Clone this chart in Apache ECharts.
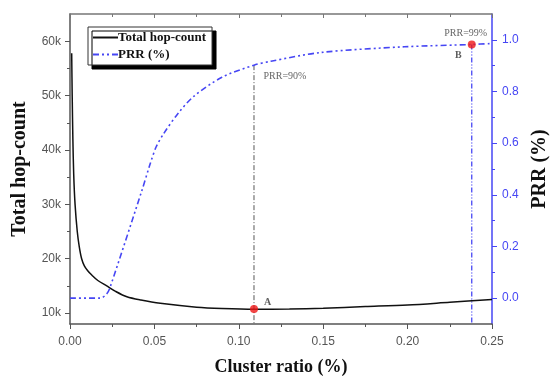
<!DOCTYPE html>
<html>
<head>
<meta charset="utf-8">
<script src="https://cdn.jsdelivr.net/npm/echarts@6/dist/echarts.min.js"></script>
<style>
  html, body { margin: 0; padding: 0; background: #fff; }
  #chart { width: 551px; height: 376px; }
</style>
</head>
<body>
<div id="chart"></div>
<script>
// total hop-count curve (left axis)
const hopRatio = [0.001, 0.0013, 0.0017, 0.0022, 0.003, 0.0043, 0.0055, 0.0069, 0.0085, 0.0105, 0.0129, 0.0165, 0.0218, 0.027, 0.0337, 0.042, 0.0535, 0.075, 0.09, 0.109, 0.13, 0.15, 0.175, 0.20, 0.225, 0.25];
const hopCount = [57800, 50000, 42000, 35500, 30000, 25000, 22200, 20000, 18700, 17800, 17000, 16000, 15000, 14000, 13000, 12400, 11800, 11100, 10850, 10700, 10750, 10900, 11200, 11500, 12000, 12500];

// PRR curve (right axis)
const prrRatio = [0, 0.0178, 0.0218, 0.0238, 0.0426, 0.0475, 0.051, 0.0555, 0.064, 0.0733, 0.09, 0.109, 0.119, 0.1485, 0.198, 0.238, 0.25];
const prrValue = [0, 0, 0.017, 0.043, 0.417, 0.52, 0.585, 0.637, 0.715, 0.781, 0.855, 0.902, 0.917, 0.951, 0.973, 0.982, 0.986];

// marked points
const pointA = [0.109, 10740];
const pointB = [0.238, 0.982];
const prrAtA = 0.902;

// tick labels
const hopTicks = [10000, 20000, 30000, 40000, 50000, 60000];
const hopMinor = [15000, 25000, 35000, 45000, 55000];
const prrTicks = [0, 0.2, 0.4, 0.6, 0.8, 1.0];
const prrMinor = [0.1, 0.3, 0.5, 0.7, 0.9];

const pairs = (xs, ys) => xs.map((x, i) => [x, ys[i]]);

const chart = echarts.init(document.getElementById('chart'));
const serif = '"Liberation Serif", "Times New Roman", serif';
const sans = '"Liberation Sans", Arial, sans-serif';
const blue = '#4646f4';
const axisGray = '#555';

const option = {
  animation: false,
  grid: { left: 70, right: 59, top: 14, bottom: 52, outerBoundsMode: 'none' },
  legend: {
    data: ['Total hop-count', 'PRR (%)'],
    orient: 'vertical',
    left: 88,
    top: 27,
    itemWidth: 25,
    itemHeight: 10,
    itemGap: 4,
    padding: [4, 6, 4, 4],
    backgroundColor: '#fff',
    borderColor: '#333',
    borderWidth: 1,
    shadowColor: '#000',
    shadowOffsetX: 4,
    shadowOffsetY: 4,
    shadowBlur: 0,
    itemStyle: { opacity: 0 },
    textStyle: { fontFamily: serif, fontWeight: 'bold', fontSize: 13, color: '#111', padding: [0, 0, 0, -5] }
  },
  xAxis: [
    {
      type: 'value', min: 0, max: 0.25, interval: 0.05,
      name: 'Cluster ratio (%)', nameLocation: 'middle', nameGap: 34,
      nameTextStyle: { fontFamily: serif, fontWeight: 'bold', fontSize: 18, color: '#111' },
      axisLine: { onZero: false, lineStyle: { color: axisGray, width: 1.5 } },
      axisTick: { length: 5, lineStyle: { color: axisGray } },
      minorTick: { show: true, splitNumber: 2, length: 3, lineStyle: { color: axisGray } },
      axisLabel: { formatter: v => v.toFixed(2), fontFamily: sans, fontSize: 12, color: '#555', margin: 12 },
      splitLine: { show: false }
    },
    {
      type: 'value', position: 'top', min: 0, max: 0.25, interval: 0.05,
      axisLine: { onZero: false, lineStyle: { color: '#777', width: 1.5 } },
      axisTick: { inside: true, length: 4, lineStyle: { color: '#777' } },
      minorTick: { show: true, splitNumber: 2, length: 3, lineStyle: { color: '#777' } },
      axisLabel: { show: false },
      splitLine: { show: false }
    }
  ],
  yAxis: [
    {
      type: 'value', min: 8000, max: 65000, position: 'left',
      name: 'Total hop-count', nameLocation: 'middle', nameGap: 40, nameRotate: 90,
      nameTextStyle: { fontFamily: serif, fontWeight: 'bold', fontSize: 20, color: '#111' },
      axisLine: { show: true, onZero: false, lineStyle: { color: axisGray, width: 1.5 } },
      axisTick: { show: true, length: 5, customValues: hopTicks, lineStyle: { color: axisGray } },
      axisLabel: { customValues: hopTicks, formatter: v => (v / 1000) + 'k', fontFamily: sans, fontSize: 12, color: '#555', margin: 9 },
      splitLine: { show: false }
    },
    {
      type: 'value', min: -0.1, max: 1.1, position: 'right',
      name: 'PRR (%)', nameLocation: 'middle', nameGap: 38, nameRotate: 90,
      nameTextStyle: { fontFamily: serif, fontWeight: 'bold', fontSize: 20, color: '#111' },
      axisLine: { show: true, onZero: false, lineStyle: { color: blue, width: 1.5 } },
      axisTick: { show: true, length: 5, customValues: prrTicks, lineStyle: { color: blue } },
      axisLabel: { customValues: prrTicks, formatter: v => v.toFixed(1), fontFamily: sans, fontSize: 12, color: blue, margin: 10 },
      splitLine: { show: false }
    },
    {
      type: 'value', min: 8000, max: 65000, position: 'left',
      axisLine: { show: false, onZero: false },
      axisTick: { show: true, length: 3, customValues: hopMinor, lineStyle: { color: axisGray } },
      axisLabel: { show: false },
      splitLine: { show: false }
    },
    {
      type: 'value', min: -0.1, max: 1.1, position: 'right',
      axisLine: { show: false, onZero: false },
      axisTick: { show: true, length: 3, customValues: prrMinor, lineStyle: { color: blue } },
      axisLabel: { show: false },
      splitLine: { show: false }
    }
  ],
  series: [
    {
      name: 'Total hop-count', type: 'line', smooth: 0.3, symbol: 'none',
      yAxisIndex: 0,
      lineStyle: { color: '#111', width: 1.5 },
      itemStyle: { color: '#111' },
      data: pairs(hopRatio, hopCount),
      z: 3
    },
    {
      name: 'PRR (%)', type: 'line', smooth: 0.3, symbol: 'none',
      yAxisIndex: 1,
      lineStyle: { color: blue, width: 1.6, type: [6, 3, 2, 3, 2, 3] },
      itemStyle: { color: blue },
      data: pairs(prrRatio, prrValue),
      z: 3
    },
    {
      // guide line at A
      type: 'line', symbol: 'none', yAxisIndex: 1, silent: true,
      lineStyle: { color: '#555', width: 1, type: [5, 2, 1, 2] },
      data: [[pointA[0], prrAtA], [pointA[0], -0.1]],
      markPoint: {
        symbol: 'circle', symbolSize: 0,
        label: { show: true, formatter: 'PRR=90%', fontFamily: serif, fontSize: 10, color: '#666', offset: [31, 11] },
        data: [{ coord: [pointA[0], prrAtA] }]
      },
      z: 2
    },
    {
      // guide line at B
      type: 'line', symbol: 'none', yAxisIndex: 1, silent: true,
      lineStyle: { color: blue, width: 1.3, type: [5, 2, 1, 2, 1, 2] },
      data: [[pointB[0], pointB[1]], [pointB[0], -0.1]],
      markPoint: {
        symbol: 'circle', symbolSize: 0,
        label: { show: true, formatter: 'PRR=99%', fontFamily: serif, fontSize: 10, color: '#666', offset: [-6, -11] },
        data: [{ coord: [pointB[0], pointB[1]] }]
      },
      z: 2
    },
    {
      type: 'scatter', yAxisIndex: 0, symbolSize: 8,
      itemStyle: { color: '#f01818' },
      label: { show: true, formatter: 'A', position: 'right', offset: [1, -7], fontFamily: serif, fontWeight: 'bold', fontSize: 10, color: '#333' },
      data: [pointA],
      z: 5
    },
    {
      type: 'scatter', yAxisIndex: 1, symbolSize: 8,
      itemStyle: { color: '#f01818' },
      label: { show: true, formatter: 'B', position: 'left', offset: [-1, 11], fontFamily: serif, fontWeight: 'bold', fontSize: 10, color: '#333' },
      data: [pointB],
      z: 5
    }
  ]
};

chart.setOption(option);
</script>
</body>
</html>
